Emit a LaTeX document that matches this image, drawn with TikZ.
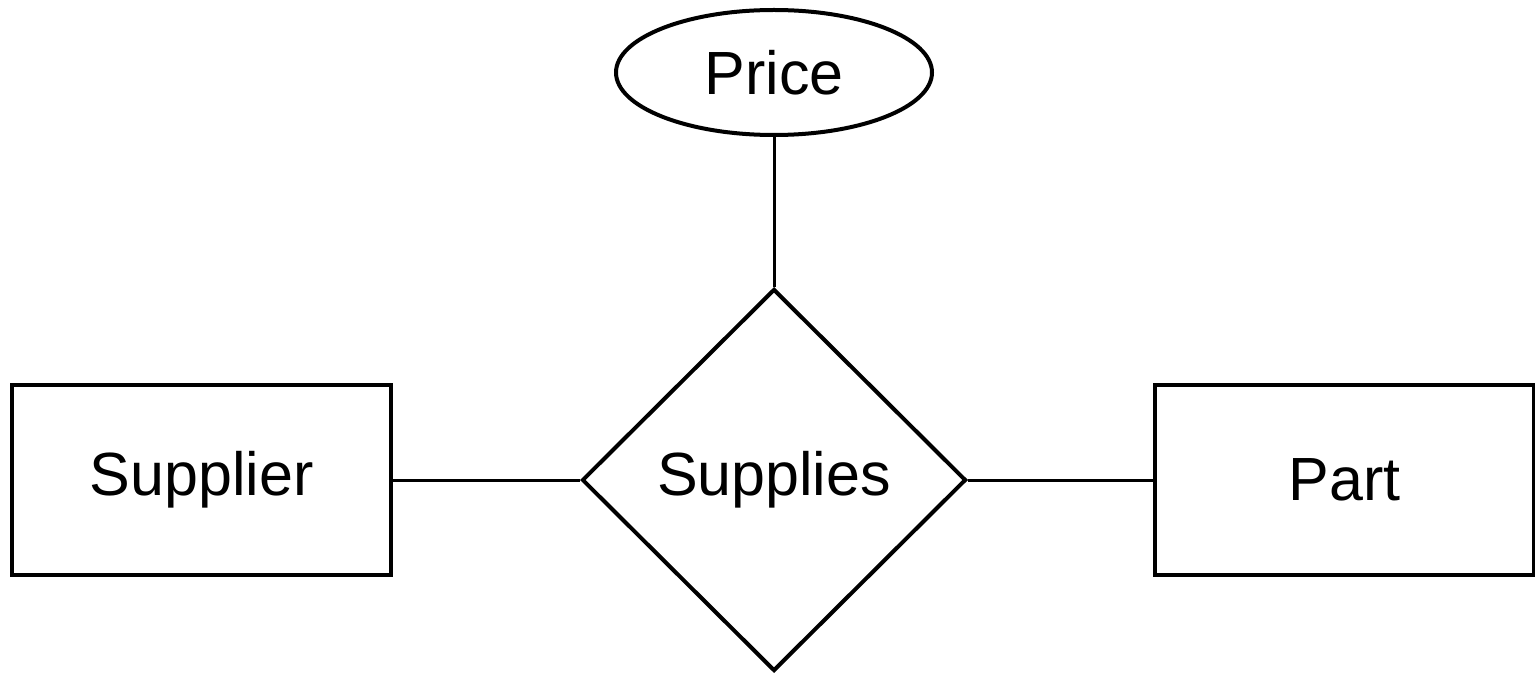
\documentclass[tikz,border=0pt]{standalone}
\usepackage{fontspec}
\setmainfont{Liberation Sans}
\usetikzlibrary{shapes.geometric}
\begin{document}
\begin{tikzpicture}[x=1pt,y=-1pt,
  every node/.style={font=\fontsize{61}{70}\selectfont, inner sep=0pt},
  entity/.style={draw, line width=4pt, minimum width=379pt, minimum height=190pt},
  rel/.style={draw, line width=4pt, diamond, minimum width=384pt, minimum height=382pt},
  attr/.style={draw, line width=4pt, ellipse, minimum width=316pt, minimum height=125pt},
  link/.style={line width=3pt}]
\useasboundingbox (0,0) rectangle (1535,676);
\node[entity] (sup) at (201.5,480) {Supplier};
\node[entity] (part) at (1344.5,480) {Part};
\node[rel] (rs) at (774,480) {Supplies};
\node[attr] (price) at (774,72.5) {Price};
\draw[link] (sup.east) -- (rs.west);
\draw[link] (rs.east) -- (part.west);
\draw[link] (price.south) -- (rs.north);
\end{tikzpicture}
\end{document}
